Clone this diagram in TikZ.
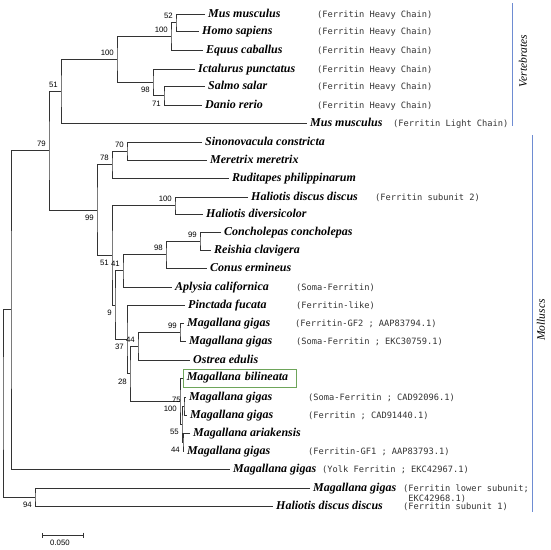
\documentclass[tikz,border=0pt]{standalone}
\usepackage{fontspec}
\setmainfont{Liberation Serif}
\setsansfont{Liberation Sans}
\newfontfamily\notefont{DejaVu Sans Mono}
\usetikzlibrary{arrows.meta}
\definecolor{cladeblue}{RGB}{110,140,210}
\definecolor{boxgreen}{RGB}{110,165,90}
\tikzset{
	branch/.style={draw=black!80,line width=0.6pt},
	taxfont/.style={font=\fontsize{12}{14}\selectfont\bfseries\itshape},
	taxon/.style={taxfont,anchor=base west,inner sep=0pt,xshift=3pt,yshift=-3.5pt},
	boxed/.style={taxfont,anchor=west,draw=boxgreen,line width=0.6pt,inner sep=3.5pt,text width=106pt,align=left},
	notefont/.style={text=black!80,font=\notefont\fontsize{8.7}{10.2}\selectfont},
	note/.style={notefont,anchor=base west,inner sep=0pt,yshift=-3.5pt},
	bootnum/.style={anchor=east,inner sep=0pt,xshift=-3pt,font=\sffamily\fontsize{7.8}{9}\selectfont},
	bootup/.style={bootnum,yshift=6.5pt},
	bootdn/.style={bootnum,yshift=-8pt},
	cladebar/.style={draw=cladeblue,line width=0.6pt},
	cladename/.style={rotate=90,inner sep=0pt,font=\fontsize{11.5}{13}\selectfont\itshape}
}
\begin{document}
\begin{tikzpicture}[x=1pt,y=-1pt]
			\useasboundingbox (0,0) rectangle (550,550);
			\coordinate (mus) at (205,14);
			\coordinate (hom) at (199,31);
			\coordinate (equ) at (203,50);
			\coordinate (ict) at (195,69);
			\coordinate (sal) at (205,86);
			\coordinate (dan) at (202,105);
			\coordinate (musL) at (307,123);
			\coordinate (sin) at (202,142);
			\coordinate (mer) at (207,160);
			\coordinate (rud) at (229,178);
			\coordinate (hdd2) at (248,197);
			\coordinate (hdiv) at (203,214);
			\coordinate (con) at (221,232);
			\coordinate (rei) at (211,250);
			\coordinate (cer) at (207,268);
			\coordinate (apl) at (172,287);
			\coordinate (pin) at (185,305);
			\coordinate (gf2) at (184,323);
			\coordinate (eks) at (186,341);
			\coordinate (ost) at (190,360);
			\coordinate (bil) at (183,378);
			\coordinate (cad1) at (186,397);
			\coordinate (cad2) at (187,415);
			\coordinate (ari) at (190,433);
			\coordinate (gf1) at (184,451);
			\coordinate (yolk) at (230,469);
			\coordinate (low) at (310,488);
			\coordinate (hdd1) at (273,506);

			\coordinate (iMH) at (176,22.5);
			\coordinate (iMHE) at (171,36.25);
			\coordinate (iSD) at (164,95.5);
			\coordinate (iISD) at (153,82.25);
			\coordinate (iHC) at (117,59.25);
			\coordinate (iVert) at (61,91.1);
			\coordinate (iSM) at (127,151);
			\coordinate (iSMR) at (112,164.5);
			\coordinate (iHal) at (175,205.5);
			\coordinate (iCR) at (200,241);
			\coordinate (iCRC) at (166,254.5);
			\coordinate (iCRCA) at (123,270.75);
			\coordinate (iGG) at (180,332);
			\coordinate (iGGO) at (138,346);
			\coordinate (iCC) at (184,406);
			\coordinate (iAG) at (183,442);
			\coordinate (iCCAG) at (182,424);
			\coordinate (iBil) at (180,401);
			\coordinate (iOys) at (130,373.5);
			\coordinate (iPOys) at (127,339.25);
			\coordinate (iGast) at (115,305);
			\coordinate (iMoll1) at (112,255.25);
			\coordinate (iMoll) at (97,209.9);
			\coordinate (iAll) at (49,150.5);
			\coordinate (iYolk) at (11,309.75);
			\coordinate (iLow) at (35,497);
			\coordinate (iRoot) at (3,403.4);

			\draw[branch] (mus) -| (iMH) |- (hom);
			\draw[branch] (iMH) -| (iMHE) |- (equ);
			\draw[branch] (sal) -| (iSD) |- (dan);
			\draw[branch] (ict) -| (iISD) |- (iSD);
			\draw[branch] (iMHE) -| (iHC) |- (iISD);
			\draw[branch] (iHC) -| (iVert) |- (musL);
			\draw[branch] (sin) -| (iSM) |- (mer);
			\draw[branch] (iSM) -| (iSMR) |- (rud);
			\draw[branch] (hdd2) -| (iHal) |- (hdiv);
			\draw[branch] (con) -| (iCR) |- (rei);
			\draw[branch] (iCR) -| (iCRC) |- (cer);
			\draw[branch] (iCRC) -| (iCRCA) |- (apl);
			\draw[branch] (gf2) -| (iGG) |- (eks);
			\draw[branch] (iGG) -| (iGGO) |- (ost);
			\draw[branch] (cad1) -| (iCC) |- (cad2);
			\draw[branch] (ari) -| (iAG) |- (gf1);
			\draw[branch] (iCC) -| (iCCAG) |- (iAG);
			\draw[branch] (bil) -| (iBil) |- (iCCAG);
			\draw[branch] (iGGO) -| (iOys) |- (iBil);
			\draw[branch] (pin) -| (iPOys) |- (iOys);
			\draw[branch] (iCRCA) -| (iGast) |- (iPOys);
			\draw[branch] (iHal) -| (iMoll1) |- (iGast);
			\draw[branch] (iSMR) -| (iMoll) |- (iMoll1);
			\draw[branch] (iVert) -| (iAll) |- (iMoll);
			\draw[branch] (iAll) -| (iYolk) |- (yolk);
			\draw[branch] (low) -| (iLow) |- (hdd1);
			\draw[branch] (iYolk) -| (iRoot) |- (iLow);

			\node[bootup] (bMH) at (iMH) {52};
			\node[bootup] (bMHE) at (iMHE) {100};
			\node[bootdn] (bSD) at (iSD) {71};
			\node[bootdn] (bISD) at (iISD) {98};
			\node[bootup] (bHC) at (iHC) {100};
			\node[bootup] (bVert) at (iVert) {51};
			\node[bootup] (bSM) at (iSM) {70};
			\node[bootup] (bSMR) at (iSMR) {78};
			\node[bootup] (bHal) at (iHal) {100};
			\node[bootup] (bCR) at (iCR) {99};
			\node[bootup] (bCRC) at (iCRC) {98};
			\node[bootup] (bCRCA) at (iCRCA) {41};
			\node[bootup] (bGG) at (iGG) {99};
			\node[bootup] (bGGO) at (iGGO) {44};
			\node[bootup] (bCC) at (iCC) {75};
			\node[bootdn] (bAG) at (iAG) {44};
			\node[bootdn] (bCCAG) at (iCCAG) {55};
			\node[bootdn] (bBil) at (iBil) {100};
			\node[bootdn] (bOys) at (iOys) {28};
			\node[bootdn] (bPOys) at (iPOys) {37};
			\node[bootdn] (bGast) at (iGast) {9};
			\node[bootdn] (bMoll1) at (iMoll1) {51};
			\node[bootdn] (bMoll) at (iMoll) {99};
			\node[bootup] (bAll) at (iAll) {79};
			\node[bootdn] (bLow) at (iLow) {94};

			\node[taxon] (tMus) at (mus) {Mus musculus};
			\node[taxon] (tHom) at (hom) {Homo sapiens};
			\node[taxon] (tEqu) at (equ) {Equus caballus};
			\node[taxon] (tIct) at (ict) {Ictalurus punctatus};
			\node[taxon] (tSal) at (sal) {Salmo salar};
			\node[taxon] (tDan) at (dan) {Danio rerio};
			\node[taxon] (tMusL) at (musL) {Mus musculus};
			\node[taxon] (tSin) at (sin) {Sinonovacula constricta};
			\node[taxon] (tMer) at (mer) {Meretrix meretrix};
			\node[taxon] (tRud) at (rud) {Ruditapes philippinarum};
			\node[taxon] (tHdd2) at (hdd2) {Haliotis discus discus};
			\node[taxon] (tHdiv) at (hdiv) {Haliotis diversicolor};
			\node[taxon] (tCon) at (con) {Concholepas concholepas};
			\node[taxon] (tRei) at (rei) {Reishia clavigera};
			\node[taxon] (tCer) at (cer) {Conus ermineus};
			\node[taxon] (tApl) at (apl) {Aplysia californica};
			\node[taxon] (tPin) at (pin) {Pinctada fucata};
			\node[taxon] (tGf2) at (gf2) {Magallana gigas};
			\node[taxon] (tEks) at (eks) {Magallana gigas};
			\node[taxon] (tOst) at (ost) {Ostrea edulis};
			\node[boxed] (tBil) at (bil) {Magallana bilineata};
			\node[taxon] (tCad1) at (cad1) {Magallana gigas};
			\node[taxon] (tCad2) at (cad2) {Magallana gigas};
			\node[taxon] (tAri) at (ari) {Magallana ariakensis};
			\node[taxon] (tGf1) at (gf1) {Magallana gigas};
			\node[taxon] (tYolk) at (yolk) {Magallana gigas};
			\node[taxon] (tLow) at (low) {Magallana gigas};
			\node[taxon] (tHdd1) at (hdd1) {Haliotis discus discus};

			\node[note] (nMus) at (317,14) {(Ferritin Heavy Chain)};
			\node[note] (nHom) at (317,31) {(Ferritin Heavy Chain)};
			\node[note] (nEqu) at (317,50) {(Ferritin Heavy Chain)};
			\node[note] (nIct) at (317,69) {(Ferritin Heavy Chain)};
			\node[note] (nSal) at (317,86) {(Ferritin Heavy Chain)};
			\node[note] (nDan) at (317,105) {(Ferritin Heavy Chain)};
			\node[note] (nMusL) at (393,123) {(Ferritin Light Chain)};
			\node[note] (nHdd2) at (375,197) {(Ferritin subunit 2)};
			\node[note] (nApl) at (296,287) {(Soma-Ferritin)};
			\node[note] (nPin) at (296,305) {(Ferritin-like)};
			\node[note] (nGf2) at (295,323) {(Ferritin-GF2 ; AAP83794.1)};
			\node[note] (nEks) at (296,341) {(Soma-Ferritin ; EKC30759.1)};
			\node[note] (nCad1) at (308,397) {(Soma-Ferritin ; CAD92096.1)};
			\node[note] (nCad2) at (308,415) {(Ferritin ; CAD91440.1)};
			\node[note] (nGf1) at (308,451) {(Ferritin-GF1 ; AAP83793.1)};
			\node[note] (nYolk) at (322,469) {(Yolk Ferritin ; EKC42967.1)};
			\node[notefont,align=left,anchor=north west,inner sep=0pt] (nLow) at (403,484.5) {(Ferritin lower subunit;\\\hphantom{(}EKC42968.1)};
			\node[note] (nHdd1) at (403,506) {(Ferritin subunit 1)};

			\coordinate (vTop) at (512,3);
			\coordinate (vBot) at (512,126);
			\coordinate (mTop) at (532,135);
			\coordinate (mBot) at (532,512);
			\draw[cladebar] (vTop) -- (vBot);
			\draw[cladebar] (mTop) -- (mBot);
			\node[cladename] (cVert) at (523,61) {Vertebrates};
			\node[cladename] (cMoll) at (541,320) {Molluscs};

			\coordinate (sbL) at (42,535);
			\coordinate (sbR) at (84,535);
			\draw[branch,{Bar[width=5pt]}-{Bar[width=5pt]}] (sbL) -- (sbR);
			\node[bootnum,anchor=center,xshift=0pt] (sbT) at (63,542.5) {0.050};
\end{tikzpicture}
\end{document}
